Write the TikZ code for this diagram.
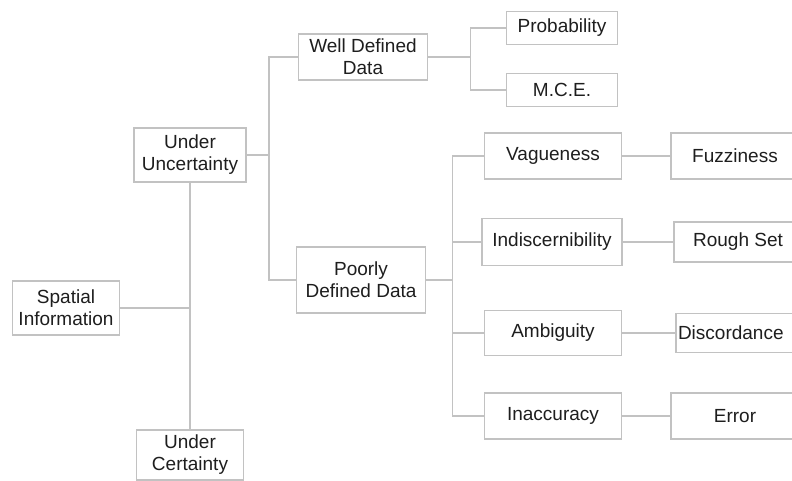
\documentclass[tikz,border=0pt]{standalone}
\usepackage{fontspec}
\setmainfont{Liberation Sans}
\usetikzlibrary{positioning}
\definecolor{linegray}{HTML}{C2C2C2}
\definecolor{textgray}{HTML}{1E1E1E}

\begin{document}
\begin{tikzpicture}[
    x=1pt, y=-1pt,
    every node/.style={font=\fontsize{19}{22}\selectfont, text=textgray},
    box/.style={draw=linegray, line width=1.5pt, fill=white, align=center, inner sep=0pt, minimum width=137pt, minimum height=46pt},
    link/.style={draw=linegray, line width=1.5pt}
]
\useasboundingbox (0,0) rectangle (792,480);
\fill[white] (0,0) rectangle (792,480);
% root and first level
\node[box, minimum width=107pt, minimum height=54pt] (spatial) at (66,308) {Spatial\\Information};
\node[box, minimum width=112pt, minimum height=54pt] (uncertain) at (190,155) {Under\\Uncertainty};
\node[box, minimum width=107pt, minimum height=50pt] (certain) at (190,455) {Under\\Certainty};
% data kinds
\node[box, minimum width=129pt] (welldef) at (363,57) {Well Defined\\Data};
\node[box, minimum width=129pt, minimum height=66pt] (poordef) at (361,280) {Poorly\\Defined Data};
\node[box, minimum width=111pt, minimum height=33pt] (prob) at (562,28) {Probability};
\node[box, minimum width=111pt, minimum height=33pt] (mce) at (562,90) {M.C.E.};
% kinds of poorly defined data
\node[box] (vague) at (553,156) {Vagueness};
\node[box, minimum width=140pt, minimum height=47pt] (indisc) at (552,242) {Indiscernibility};
\node[box, minimum height=45pt] (ambig) at (553,333) {Ambiguity};
\node[box] (inacc) at (553,416) {Inaccuracy};
\node[box, minimum width=128pt] (fuzzy) at (735,156) {Fuzziness};
\node[box, minimum width=128pt, minimum height=40pt] (rough) at (738,242) {Rough Set};
\node[box, minimum width=130pt, minimum height=39pt, text width=126pt, inner xsep=2pt, align=left] (discord) at (741,333) {Discordance};
\node[box, minimum width=128pt] (error) at (735,416) {Error};

\draw[link] (uncertain.south) -- (certain.north);
\draw[link] (spatial.east) -- (spatial.east -| uncertain.south);
\draw[link] (uncertain.east) -- ++(22,0) coordinate (jdata);
\draw[link] (welldef.west) -| (jdata) |- (poordef.west);
\draw[link] (welldef.east) -- ++(42,0) coordinate (jwell);
\draw[link] (prob.west) -| (jwell) |- (mce.west);
\draw[link] (poordef.east) -- ++(26,0) coordinate (jpoor);
\draw[link] (vague.west) -| (jpoor) |- (inacc.west);
\draw[link] (indisc.west) -- (indisc.west -| jpoor);
\draw[link] (ambig.west) -- (ambig.west -| jpoor);
\draw[link] (vague) -- (fuzzy);
\draw[link] (indisc) -- (rough);
\draw[link] (ambig) -- (discord);
\draw[link] (inacc) -- (error);
\end{tikzpicture}
\end{document}
